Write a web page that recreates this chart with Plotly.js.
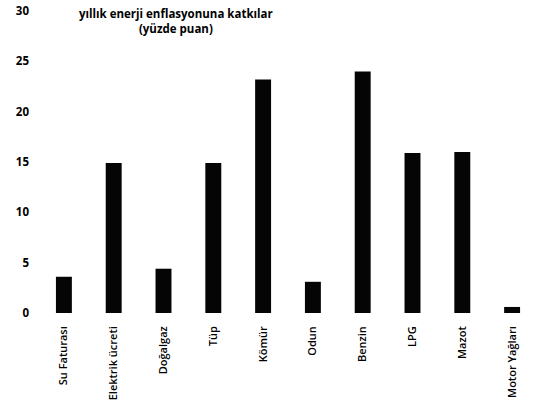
<!DOCTYPE html>
<html>
<head>
<meta charset="utf-8">
<script src="https://cdn.plot.ly/plotly-3.0.1.min.js"></script>
<style>html,body{margin:0;padding:0;background:#fff;}#chart{width:540px;height:406px;}</style>
</head>
<body>
<div id="chart"></div>
<script>
var categories = ["Su Faturası", "Elektrik ücreti", "Doğalgaz", "Tüp", "Kömür", "Odun", "Benzin", "LPG", "Mazot", "Motor Yağları"];
var values = [3.6, 14.9, 4.4, 14.9, 23.2, 3.1, 24.0, 15.9, 16.0, 0.6];
var yTicks = [0, 5, 10, 15, 20, 25, 30];
var titleText = "yıllık enerji enflasyonuna katkılar<br>(yüzde puan)";

var font = {family: "Open Sans, Noto Sans, sans-serif", color: "#000"};

Plotly.newPlot("chart", [{
  type: "bar",
  x: categories,
  y: values,
  marker: {color: "#050505", line: {width: 0}},
  hoverinfo: "skip"
}], {
  width: 540,
  height: 406,
  margin: {l: 39, r: 3, t: 11, b: 93},
  paper_bgcolor: "#fff",
  plot_bgcolor: "#fff",
  bargap: 0.68,
  showlegend: false,
  font: font,
  xaxis: {
    type: "category",
    tickangle: -90,
    showgrid: false,
    showline: false,
    zeroline: false,
    ticks: "",
    ticklabelstandoff: 10,
    tickfont: {family: font.family, size: 11, color: "#000", weight: 600}
  },
  yaxis: {
    range: [0, 30],
    tickvals: yTicks,
    ticktext: yTicks.map(String),
    showgrid: false,
    showline: false,
    zeroline: false,
    ticks: "",
    ticklabelstandoff: 9,
    tickfont: {family: font.family, size: 11.5, color: "#000", weight: 700}
  },
  annotations: [{
    text: titleText,
    xref: "paper", yref: "paper",
    x: 0.275, y: 0.967,
    xanchor: "center", yanchor: "middle",
    showarrow: false,
    align: "center",
    font: {family: font.family, size: 11.5, color: "#000", weight: 700}
  }]
}, {staticPlot: true, displayModeBar: false});
</script>
</body>
</html>
